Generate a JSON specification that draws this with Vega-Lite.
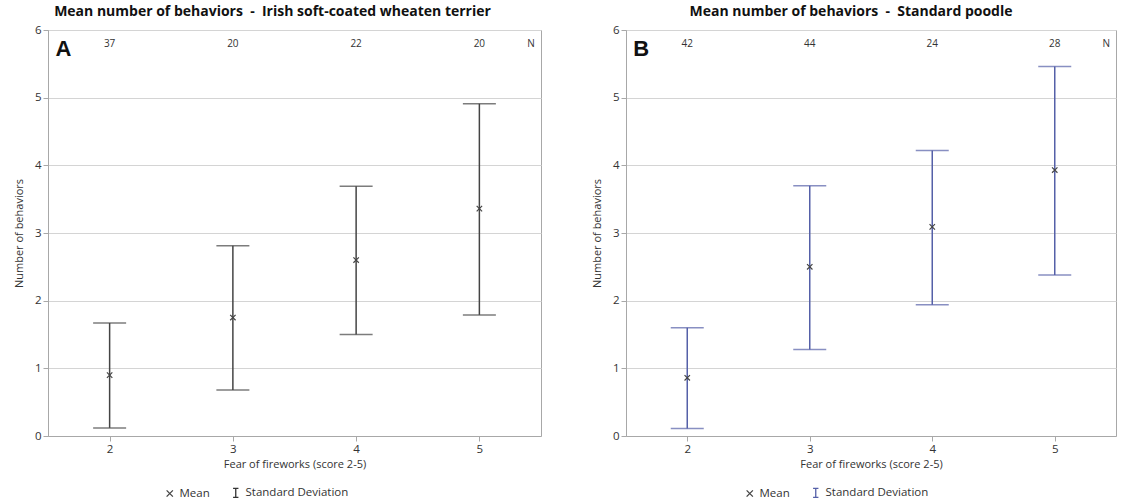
{
  "$schema": "https://vega.github.io/schema/vega-lite/v6.json",
  "background": "white",
  "padding": {"left": 12, "top": 4, "right": 5, "bottom": 0},
  "spacing": 48,
  "config": {
    "font": "Open Sans",
    "view": {"stroke": "#a8a8a8", "strokeWidth": 1},
    "axis": {"labelFont": "Open Sans", "titleFont": "Open Sans", "labelFontSize": 11.5, "titleFontSize": 11, "titleFontWeight": "normal", "labelColor": "#333", "titleColor": "#333", "domainColor": "#a8a8a8", "tickColor": "#a8a8a8", "gridColor": "#d4d4d4"},
    "title": {"font": "Open Sans", "fontSize": 14, "fontWeight": "bold", "color": "#111", "offset": 5},
    "legend": {"labelFont": "Open Sans", "labelFontSize": 11.5, "labelColor": "#333"}
  },
  "datasets": {
    "a": [
      {"score": 2, "mean": 0.9, "lower": 0.12, "upper": 1.67, "n": 37},
      {"score": 3, "mean": 1.75, "lower": 0.68, "upper": 2.81, "n": 20},
      {"score": 4, "mean": 2.6, "lower": 1.5, "upper": 3.69, "n": 22},
      {"score": 5, "mean": 3.36, "lower": 1.79, "upper": 4.91, "n": 20}
    ],
    "b": [
      {"score": 2, "mean": 0.86, "lower": 0.11, "upper": 1.6, "n": 42},
      {"score": 3, "mean": 2.5, "lower": 1.28, "upper": 3.7, "n": 44},
      {"score": 4, "mean": 3.09, "lower": 1.94, "upper": 4.22, "n": 24},
      {"score": 5, "mean": 3.93, "lower": 2.38, "upper": 5.46, "n": 28}
    ]
  },
  "resolve": {"scale": {"color": "independent", "shape": "independent"}, "legend": {"color": "independent", "shape": "independent"}},
  "hconcat": [
    {
      "width": 493,
      "height": 406,
      "title": {"text": "Mean number of behaviors \u00a0-\u00a0 Irish soft-coated wheaten terrier", "anchor": "middle", "dx": -22},
      "data": {"name": "a"},
      "encoding": {
        "x": {"field": "score", "type": "quantitative", "scale": {"domain": [1.5, 5.5], "nice": false, "zero": false}, "axis": {"values": [2, 3, 4, 5], "grid": false, "title": "Fear of fireworks (score 2-5)", "titlePadding": 4}}
      },
      "layer": [
        {
          "mark": {"type": "rule", "color": "#444", "strokeWidth": 1.5},
          "encoding": {
            "y": {"field": "lower", "type": "quantitative", "scale": {"domain": [0, 6], "nice": false}, "axis": {"values": [0, 1, 2, 3, 4, 5, 6], "format": "d", "grid": true, "title": "Number of behaviors", "titlePadding": 10}},
            "y2": {"field": "upper"}
          }
        },
        {"mark": {"type": "tick", "orient": "horizontal", "size": 33, "thickness": 1.5, "color": "#444"}, "encoding": {"y": {"field": "lower", "type": "quantitative"}}},
        {"mark": {"type": "tick", "orient": "horizontal", "size": 33, "thickness": 1.5, "color": "#444"}, "encoding": {"y": {"field": "upper", "type": "quantitative"}}},
        {
          "mark": {"type": "point", "filled": false, "size": 60, "strokeWidth": 1.2, "opacity": 1},
          "encoding": {
            "y": {"field": "mean", "type": "quantitative"},
            "shape": {"datum": "Mean", "type": "nominal", "scale": {"domain": ["Mean", "Standard Deviation"], "range": ["M-0.7,-0.7L0.7,0.7M-0.7,0.7L0.7,-0.7", "M-0.6,-1L0.6,-1M0,-1L0,1M-0.6,1L0.6,1"]}, "legend": {"title": null, "orient": "none", "legendX": 116, "legendY": 457, "direction": "horizontal", "symbolSize": 80, "symbolStrokeWidth": 1.3, "columnPadding": 20}},
            "color": {"datum": "Mean", "type": "nominal", "scale": {"domain": ["Mean", "Standard Deviation"], "range": ["#444", "#333"]}, "legend": {"title": null, "orient": "none", "legendX": 116, "legendY": 457, "direction": "horizontal", "symbolSize": 80, "symbolStrokeWidth": 1.3, "columnPadding": 20}}
          }
        },
        {"mark": {"type": "text", "fontSize": 10, "fontWeight": "normal", "color": "#333"}, "encoding": {"y": {"datum": 5.8}, "text": {"field": "n"}}},
        {"transform": [{"filter": {"field": "score", "equal": 5}}], "mark": {"type": "text", "fontSize": 10, "fontWeight": "normal", "color": "#333"}, "encoding": {"x": {"datum": 5.42}, "y": {"datum": 5.8}, "text": {"value": "N"}}},
        {"transform": [{"filter": {"field": "score", "equal": 2}}], "mark": {"type": "text", "fontSize": 22, "fontWeight": "bold", "color": "#111", "align": "left", "font": "Liberation Sans"}, "encoding": {"x": {"datum": 1.56}, "y": {"datum": 5.72}, "text": {"value": "A"}}}
      ]
    },
    {
      "width": 490,
      "height": 406,
      "title": {"text": "Mean number of behaviors \u00a0-\u00a0 Standard poodle", "anchor": "middle", "dx": -20},
      "data": {"name": "b"},
      "encoding": {
        "x": {"field": "score", "type": "quantitative", "scale": {"domain": [1.5, 5.5], "nice": false, "zero": false}, "axis": {"values": [2, 3, 4, 5], "grid": false, "title": "Fear of fireworks (score 2-5)", "titlePadding": 4}}
      },
      "layer": [
        {
          "mark": {"type": "rule", "color": "#5560a8", "strokeWidth": 1.5},
          "encoding": {
            "y": {"field": "lower", "type": "quantitative", "scale": {"domain": [0, 6], "nice": false}, "axis": {"values": [0, 1, 2, 3, 4, 5, 6], "format": "d", "grid": true, "title": "Number of behaviors", "titlePadding": 10}},
            "y2": {"field": "upper"}
          }
        },
        {"mark": {"type": "tick", "orient": "horizontal", "size": 33, "thickness": 1.5, "color": "#5560a8"}, "encoding": {"y": {"field": "lower", "type": "quantitative"}}},
        {"mark": {"type": "tick", "orient": "horizontal", "size": 33, "thickness": 1.5, "color": "#5560a8"}, "encoding": {"y": {"field": "upper", "type": "quantitative"}}},
        {
          "mark": {"type": "point", "filled": false, "size": 60, "strokeWidth": 1.2, "opacity": 1},
          "encoding": {
            "y": {"field": "mean", "type": "quantitative"},
            "shape": {"datum": "Mean", "type": "nominal", "scale": {"domain": ["Mean", "Standard Deviation"], "range": ["M-0.7,-0.7L0.7,0.7M-0.7,0.7L0.7,-0.7", "M-0.6,-1L0.6,-1M0,-1L0,1M-0.6,1L0.6,1"]}, "legend": {"title": null, "orient": "none", "legendX": 118, "legendY": 457, "direction": "horizontal", "symbolSize": 80, "symbolStrokeWidth": 1.3, "columnPadding": 20}},
            "color": {"datum": "Mean", "type": "nominal", "scale": {"domain": ["Mean", "Standard Deviation"], "range": ["#444", "#5560a8"]}, "legend": {"title": null, "orient": "none", "legendX": 118, "legendY": 457, "direction": "horizontal", "symbolSize": 80, "symbolStrokeWidth": 1.3, "columnPadding": 20}}
          }
        },
        {"mark": {"type": "text", "fontSize": 10, "fontWeight": "normal", "color": "#333"}, "encoding": {"y": {"datum": 5.8}, "text": {"field": "n"}}},
        {"transform": [{"filter": {"field": "score", "equal": 5}}], "mark": {"type": "text", "fontSize": 10, "fontWeight": "normal", "color": "#333"}, "encoding": {"x": {"datum": 5.42}, "y": {"datum": 5.8}, "text": {"value": "N"}}},
        {"transform": [{"filter": {"field": "score", "equal": 2}}], "mark": {"type": "text", "fontSize": 22, "fontWeight": "bold", "color": "#111", "align": "left", "font": "Liberation Sans"}, "encoding": {"x": {"datum": 1.56}, "y": {"datum": 5.72}, "text": {"value": "B"}}}
      ]
    }
  ]
}
